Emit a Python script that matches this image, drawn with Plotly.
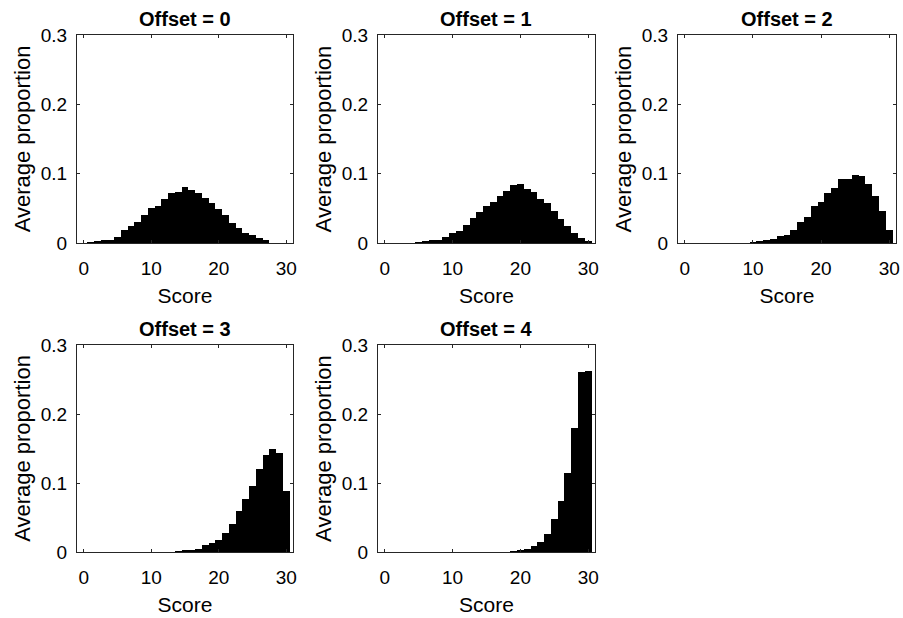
import plotly.graph_objects as go

scores = list(range(0, 31))

offset0 = [0.0, 0.001, 0.002, 0.004, 0.005, 0.009, 0.019, 0.025, 0.031, 0.040,
           0.050, 0.054, 0.064, 0.072, 0.074, 0.081, 0.077, 0.072, 0.065, 0.058,
           0.049, 0.041, 0.029, 0.021, 0.015, 0.011, 0.007, 0.004, 0.0, 0.0, 0.0]
offset1 = [0.0, 0.0, 0.0, 0.0, 0.0, 0.001, 0.002, 0.004, 0.005, 0.009,
           0.014, 0.017, 0.026, 0.036, 0.045, 0.053, 0.059, 0.068, 0.075, 0.083,
           0.085, 0.078, 0.074, 0.064, 0.057, 0.046, 0.035, 0.025, 0.015, 0.007, 0.003]
offset2 = [0.0, 0.0, 0.0, 0.0, 0.0, 0.0, 0.0, 0.0, 0.0, 0.0,
           0.001, 0.002, 0.005, 0.006, 0.010, 0.012, 0.019, 0.031, 0.038, 0.054,
           0.059, 0.072, 0.080, 0.093, 0.092, 0.098, 0.097, 0.085, 0.068, 0.046, 0.019]
offset3 = [0.0, 0.0, 0.0, 0.0, 0.0, 0.0, 0.0, 0.0, 0.0, 0.0,
           0.0, 0.0, 0.0, 0.0, 0.001, 0.0015, 0.003, 0.005, 0.010, 0.013,
           0.018, 0.028, 0.041, 0.059, 0.077, 0.095, 0.120, 0.140, 0.150, 0.143, 0.088]
offset4 = [0.0, 0.0, 0.0, 0.0, 0.0, 0.0, 0.0, 0.0, 0.0, 0.0,
           0.0, 0.0, 0.0, 0.0, 0.0, 0.0, 0.0, 0.0, 0.0, 0.001,
           0.0025, 0.004, 0.009, 0.014, 0.026, 0.048, 0.074, 0.114, 0.179, 0.261, 0.263]

series = [offset0, offset1, offset2, offset3, offset4]
titles = ["Offset = 0", "Offset = 1", "Offset = 2", "Offset = 3", "Offset = 4"]
x_ticks = [0, 10, 20, 30]
y_ticks = [0, 0.1, 0.2, 0.3]
y_tick_labels = ["0", "0.1", "0.2", "0.3"]

W, H = 903, 618
col_px = [(77, 293), (378, 595), (678, 896)]
row_px = [(35, 243), (345, 552)]

FONT = "Arial, Liberation Sans, sans-serif"
AX = "#262626"

fig = go.Figure()
layout = dict(
    width=W, height=H,
    margin=dict(l=0, r=0, t=0, b=0, autoexpand=False),
    paper_bgcolor="white", plot_bgcolor="white",
    showlegend=False, bargap=0,
    font=dict(family=FONT, size=19, color="black"),
)
annotations = []
for i, (vals, title) in enumerate(zip(series, titles)):
    r, c = divmod(i, 3)
    x0, x1 = col_px[c]
    y0, y1 = row_px[r]
    xa = "xaxis" if i == 0 else f"xaxis{i+1}"
    ya = "yaxis" if i == 0 else f"yaxis{i+1}"
    xr = "x" if i == 0 else f"x{i+1}"
    yr = "y" if i == 0 else f"y{i+1}"
    fig.add_trace(go.Bar(x=scores, y=vals, width=1.0, marker=dict(color="black", line=dict(width=0)),
                         xaxis=xr, yaxis=yr))
    layout[xa] = dict(
        domain=[x0 / W, x1 / W], anchor=yr, range=[-1, 31], automargin=False,
        tickvals=x_ticks, ticks="inside", ticklen=3, tickcolor=AX,
        showline=True, linecolor=AX, linewidth=1, mirror="ticks",
        showgrid=False, zeroline=False, ticklabelstandoff=8,
        tickfont=dict(size=19, color="black", family=FONT),
        title=dict(text="Score", font=dict(size=21, color="black", family=FONT), standoff=10),
    )
    layout[ya] = dict(
        domain=[1 - y1 / H, 1 - y0 / H], anchor=xr, range=[0, 0.3], automargin=False,
        tickvals=y_ticks, ticktext=y_tick_labels, ticks="inside", ticklen=3, tickcolor=AX,
        showline=True, linecolor=AX, linewidth=1, mirror="ticks",
        showgrid=False, zeroline=False, ticklabelstandoff=5,
        tickfont=dict(size=19, color="black", family=FONT),
        title=dict(text="Average proportion", font=dict(size=22, color="black", family=FONT), standoff=4),
    )
    annotations.append(dict(
        text="<b>" + title + "</b>", x=(x0 + x1) / 2 / W, y=1 - (y0 - 3) / H,
        xref="paper", yref="paper", xanchor="center", yanchor="bottom",
        showarrow=False, font=dict(size=20, color="black", family=FONT),
    ))
layout["annotations"] = annotations
fig.update_layout(**layout)
fig.write_html("out.html", config={"displayModeBar": False},
               post_script="document.body.style.margin='0';")
